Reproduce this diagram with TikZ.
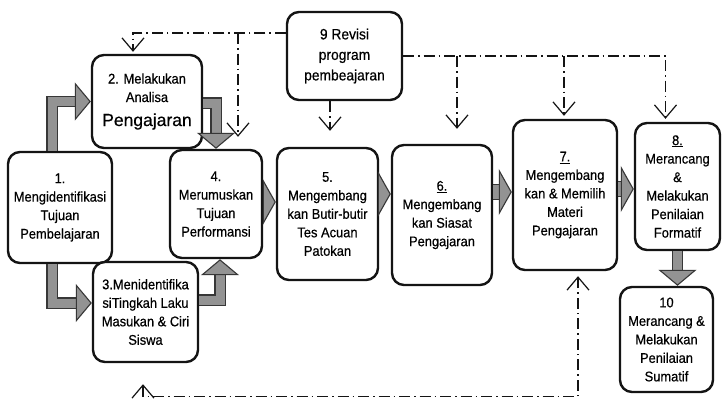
\documentclass[tikz,border=0pt]{standalone}
\usepackage{fontspec}
\setmainfont{Liberation Sans}[FakeStretch=0.92,FakeBold=0.5]
\newfontfamily\hurufbesar{Liberation Sans}[FakeBold=0.5]
\usetikzlibrary{arrows.meta,calc}
\definecolor{Abu}{HTML}{939393}
\definecolor{Garis}{HTML}{141414}

\begin{document}
\begin{tikzpicture}[x=1pt,y=-1pt,
  tahap/.style={draw=Garis,line width=2.4pt,rounded corners=12pt,fill=white,align=center,inner sep=2pt,font=\fontsize{14}{18.5}\selectfont},
  panah/.style={draw=Garis!85,line width=1.1pt,double=Abu,double distance=9pt,line join=miter,-{Triangle[length=16pt,width=38pt,fill=Abu]}},
  panahlurus/.style={panah,double distance=14pt,-{Triangle[length=13pt,width=46pt,fill=Abu]}},
  revisi/.style={draw=Garis,line width=1.2pt,dash pattern=on 11pt off 4pt on 1.5pt off 4pt,-{Straight Barb[length=13pt,width=22pt]}}]
\fill[white] (0,0) rectangle (723,405);
\useasboundingbox (0,0) rectangle (723,405);
% langkah-langkah
\node[tahap,minimum width=104pt,minimum height=111pt] (satu) at (60,207.5){1.\\Mengidentifikasi\\Tujuan\\Pembelajaran};
\node[tahap,minimum width=110pt,minimum height=93pt] (dua) at (147,101.5){2. Melakukan\\Analisa\\[5.5pt]{\hurufbesar\fontsize{17.5}{21}\selectfont Pengajaran}};
\node[tahap,minimum width=105pt,minimum height=100pt] (tiga) at (145.5,312){3.Menidentifika\\siTingkah Laku\\Masukan \& Ciri\\Siswa};
\node[tahap,minimum width=92pt,minimum height=108pt] (empat) at (216,204){4.\\Merumuskan\\Tujuan\\Performansi};
\node[tahap,minimum width=101pt,minimum height=132pt] (lima) at (327.5,214){5.\\Mengembang\\kan Butir-butir\\Tes Acuan\\Patokan};
\node[tahap,minimum width=100pt,minimum height=140pt] (enam) at (442,215){\underline{6.}\\Mengembang\\kan Siasat\\Pengajaran};
\node[tahap,minimum width=104pt,minimum height=150pt] (tujuh) at (565,195){\underline{7.}\\Mengembang\\kan \& Memilih\\Materi\\Pengajaran};
\node[tahap,minimum width=85pt,minimum height=127pt] (delapan) at (677.5,186.5){\underline{8.}\\Merancang\\\&\\Melakukan\\Penilaian\\Formatif};
\node[tahap,font=\fontsize{15}{20.5}\selectfont,minimum width=115pt,minimum height=88pt] (sembilan) at (344.5,56){9 Revisi\\program\\pembeajaran};
\node[tahap,minimum width=93pt,minimum height=105pt] (sepuluh) at (666.5,339.5){10\\Merancang \&\\Melakukan\\Penilaian\\Sumatif};
% panah abu-abu
\draw[panah] ([xshift=-8pt]satu.north) |- (dua.west);
\draw[panah] ([yshift=-1.5pt]dua.east) -| (empat.north);
\draw[panah] ([xshift=-8pt]satu.south) |- ([yshift=9pt]tiga.west);
\draw[panah] ([yshift=12pt]tiga.east) -| ([xshift=4pt]empat.south);
\draw[panahlurus] ([yshift=2pt]empat.east) -- ([yshift=2pt]empat.east -| lima.west);
\draw[panahlurus] ([yshift=20pt]lima.east) -- ([yshift=20pt]lima.east -| enam.west);
\draw[panahlurus] ([yshift=23pt]enam.east) -- ([yshift=23pt]enam.east -| tujuh.west);
\draw[panahlurus] ([yshift=6pt]tujuh.east) -- ([yshift=6pt]tujuh.east -| delapan.west);
\draw[panah] (delapan.south) -- (delapan.south |- sepuluh.north);
% garis revisi
\coordinate (ta) at ($(sembilan.west)+(0,23pt)$);
\coordinate (b2) at ($(dua.north)+(-14pt,2pt)$);
\coordinate (b4) at ($(empat.north)+(22pt,12pt)$);
\coordinate (b5) at ($(lima.north)+(2.5pt,16pt)$);
\coordinate (b6) at ($(enam.north)+(15pt,15pt)$);
\coordinate (b7) at ($(tujuh.north)+(-1pt,3pt)$);
\coordinate (b8) at ($(delapan.north)+(-12pt,3pt)$);
\coordinate (b3) at ($(tiga.south)+(-2.5pt,-21pt)$);
\coordinate (bw) at ($(tiga.south)+(0,-33pt)$);
\coordinate (b7b) at ($(tujuh.south)+(13pt,-5pt)$);
\draw[revisi] (ta) -| (b2);
\draw[revisi] (b4 |- ta) -- (b4);
\draw[revisi] (b5 |- sembilan.south) -- (b5);
\draw[revisi] (sembilan.east) -| (b8);
\draw[revisi] (b6 |- sembilan.east) -- (b6);
\draw[revisi] (b7 |- sembilan.east) -- (b7);
\draw[revisi,{Straight Barb[length=13pt,width=22pt]}-{Straight Barb[length=13pt,width=22pt]}] (b3) -- (b3 |- bw) -| (b7b);
\end{tikzpicture}
\end{document}
